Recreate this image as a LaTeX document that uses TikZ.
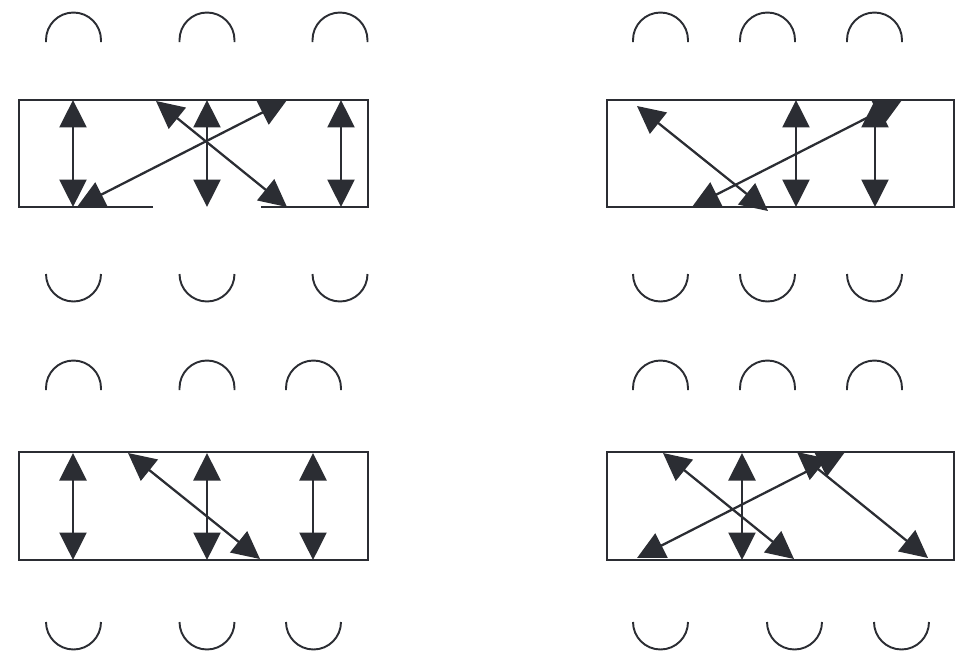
\documentclass[tikz,border=0pt]{standalone}
\usetikzlibrary{arrows.meta}
\definecolor{ink}{RGB}{43,45,51}
\begin{document}
\begin{tikzpicture}[x=0.02cm,y=-0.02cm,
  frame/.style={draw=ink,line width=1.3pt},
  halfring/.style={draw=ink,line width=1.1pt},
  dblarrow/.style={draw=ink,line width=1.3pt,
    {Triangle[length=0.55cm,width=0.54cm]}-{Triangle[length=0.55cm,width=0.54cm]}}]
\useasboundingbox (0,0) rectangle (960,663);

% ---------- half rings ----------
\foreach \cx in {73.5,207,340} {
  \draw[halfring] (\cx-27.5,42) -- ++(0,-2) arc[start angle=180,end angle=0,radius=0.55cm] -- ++(0,2);
  \draw[halfring] (\cx-27.5,274) arc[start angle=180,end angle=360,radius=0.55cm];
}
\foreach \cx in {660.5,767.5,874.5} {
  \draw[halfring] (\cx-27.5,42) -- ++(0,-2) arc[start angle=180,end angle=0,radius=0.55cm] -- ++(0,2);
  \draw[halfring] (\cx-27.5,274) arc[start angle=180,end angle=360,radius=0.55cm];
}
\foreach \cx in {73.5,207,313.5} {
  \draw[halfring] (\cx-27.5,390) -- ++(0,-2) arc[start angle=180,end angle=0,radius=0.55cm] -- ++(0,2);
  \draw[halfring] (\cx-27.5,622) arc[start angle=180,end angle=360,radius=0.55cm];
}
\foreach \cx in {660.5,767.5,874.5} {
  \draw[halfring] (\cx-27.5,390) -- ++(0,-2) arc[start angle=180,end angle=0,radius=0.55cm] -- ++(0,2);
}
\foreach \cx in {660.5,794.5,901.5} {
  \draw[halfring] (\cx-27.5,622) arc[start angle=180,end angle=360,radius=0.55cm];
}

% ---------- frames ----------
\draw[frame] (153,207) -- (19,207) -- (19,100) -- (368,100) -- (368,207) -- (261,207);
\draw[frame] (607,100) rectangle (954,207);
\draw[frame] (19,452) rectangle (368,560);
\draw[frame] (607,452) rectangle (954,560);

% ---------- top-left arrows ----------
\coordinate (tlv1a) at (73,100);  \coordinate (tlv1b) at (73,207);
\coordinate (tlv2a) at (207,100); \coordinate (tlv2b) at (207,207);
\coordinate (tlv3a) at (341,100); \coordinate (tlv3b) at (341,207);
\coordinate (tld1a) at (156,101); \coordinate (tld1b) at (287,207);
\coordinate (tld2a) at (77,207);  \coordinate (tld2b) at (287,100);
\draw[dblarrow] (tlv1a) -- (tlv1b);
\draw[dblarrow] (tlv2a) -- (tlv2b);
\draw[dblarrow] (tlv3a) -- (tlv3b);
\draw[dblarrow] (tld1a) -- (tld1b);
\draw[dblarrow] (tld2a) -- (tld2b);

% ---------- top-right arrows ----------
\coordinate (trv1a) at (796,100); \coordinate (trv1b) at (796,207);
\coordinate (trv2a) at (875,100); \coordinate (trv2b) at (875,207);
\coordinate (trd1a) at (637,106); \coordinate (trd1b) at (768,211);
\coordinate (trd2a) at (692,207); \coordinate (trd2b) at (902,100);
\draw[dblarrow] (trv1a) -- (trv1b);
\draw[dblarrow] (trv2a) -- (trv2b);
\draw[dblarrow] (trd1a) -- (trd1b);
\draw[dblarrow] (trd2a) -- (trd2b);

% ---------- bottom-left arrows ----------
\coordinate (blv1a) at (73,453);  \coordinate (blv1b) at (73,560);
\coordinate (blv2a) at (207,453); \coordinate (blv2b) at (207,560);
\coordinate (blv3a) at (313,453); \coordinate (blv3b) at (313,560);
\coordinate (bld1a) at (128,453); \coordinate (bld1b) at (260,559);
\draw[dblarrow] (blv1a) -- (blv1b);
\draw[dblarrow] (blv2a) -- (blv2b);
\draw[dblarrow] (blv3a) -- (blv3b);
\draw[dblarrow] (bld1a) -- (bld1b);

% ---------- bottom-right arrows ----------
\coordinate (brv1a) at (742,453); \coordinate (brv1b) at (742,560);
\coordinate (brd1a) at (663,453); \coordinate (brd1b) at (794,559);
\coordinate (brd2a) at (637,558); \coordinate (brd2b) at (845,452);
\coordinate (brd3a) at (797,452); \coordinate (brd3b) at (928,558);
\draw[dblarrow] (brv1a) -- (brv1b);
\draw[dblarrow] (brd1a) -- (brd1b);
\draw[dblarrow] (brd2a) -- (brd2b);
\draw[dblarrow] (brd3a) -- (brd3b);
\end{tikzpicture}
\end{document}
